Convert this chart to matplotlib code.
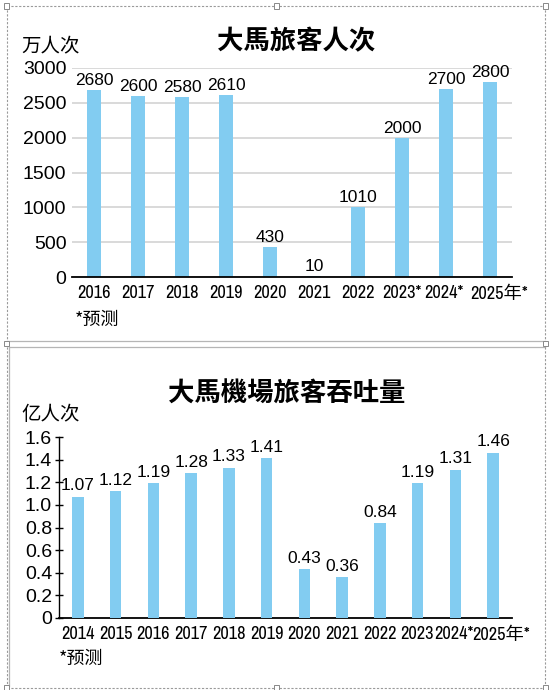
import matplotlib
matplotlib.use("Agg")
import matplotlib.pyplot as plt
from matplotlib import font_manager as fm
from matplotlib.lines import Line2D
from matplotlib.patches import Rectangle
from matplotlib.transforms import ScaledTranslation

# ---------------- data ----------------
years_top = ['2016', '2017', '2018', '2019', '2020', '2021', '2022', '2023*', '2024*', '2025年*']
visitors = [2680, 2600, 2580, 2610, 430, 10, 1010, 2000, 2700, 2800]
yticks_top = [0, 500, 1000, 1500, 2000, 2500, 3000]

years_bot = ['2014', '2015', '2016', '2017', '2018', '2019', '2020', '2021', '2022', '2023', '2024*', '2025年*']
airport = [1.07, 1.12, 1.19, 1.28, 1.33, 1.41, 0.43, 0.36, 0.84, 1.19, 1.31, 1.46]
yticks_bot = [0, 0.2, 0.4, 0.6, 0.8, 1.0, 1.2, 1.4, 1.6]

title_top = '大馬旅客人次'
title_bot = '大馬機場旅客吞吐量'
unit_top = '万人次'
unit_bot = '亿人次'
note = '*预测'

# ---------------- fonts ----------------
sans = 'Liberation Sans'
cjk = 'Noto Sans CJK SC'


def find_condensed():
    cands = []
    for e in fm.fontManager.ttflist:
        fn = e.fname.replace('\\', '/').split('/')[-1].lower()
        if not (fn.endswith('.ttf') or fn.endswith('.otf')):
            continue
        if 'italic' in fn or 'oblique' in fn:
            continue
        if 'bold' in fn or 'light' in fn or 'thin' in fn or 'black' in fn or 'medium' in fn:
            continue
        if 'mono' in fn or 'serif' in fn or 'cjk' in fn:
            continue
        score = None
        if 'narrow' in fn:
            score = 0
        elif 'extracondensed' in fn or 'ultracondensed' in fn:
            score = None
        elif 'semicondensed' in fn:
            score = 3
        elif 'condensed' in fn:
            score = 1
        if score is not None:
            cands.append((score, fn, e))
    cands.sort(key=lambda t: (t[0], t[1]))
    return cands[0][2] if cands else None


cond = find_condensed()
if cond is not None:
    narrow_kw = dict(family=[cond.name, cjk], stretch=cond.stretch, weight='normal')
    nsize = 13.2
else:
    narrow_kw = dict(family=[sans, cjk])
    nsize = 11.5

plt.rcParams['font.family'] = [sans, cjk, 'DejaVu Sans']

BAR = '#82CCF1'
W, H = 552, 690
fig = plt.figure(figsize=(W / 100, H / 100), dpi=100)


def fx(x):
    return x / W


def fy(y):
    return 1 - y / H


def shift(label, dx_px):
    label.set_transform(label.get_transform() + ScaledTranslation(dx_px / 100, 0, fig.dpi_scale_trans))


# ---------------- decorations (frames) ----------------
def hline(x0, x1, y, **kw):
    fig.add_artist(Line2D([fx(x0), fx(x1)], [fy(y), fy(y)], transform=fig.transFigure, **kw))


def vline(x, y0, y1, **kw):
    fig.add_artist(Line2D([fx(x), fx(x)], [fy(y0), fy(y1)], transform=fig.transFigure, **kw))


dash = dict(color='#9a9a9a', lw=0.8, ls=(0, (2, 1.5)))
solid = dict(color='#b5b5b5', lw=0.9)
hline(6.5, 545, 6, **dash)
vline(6.5, 6, 343, **dash)
vline(545, 6, 343, **dash)
hline(6.5, 545, 341, **solid)
hline(9, 545, 347, **solid)
vline(9, 347, 686, **solid)
vline(6.5, 343, 688, **dash)
vline(545, 343, 688, **dash)
hline(6.5, 545, 688, **dash)

for (hx, hy) in [(6, 6), (276, 6), (545, 6), (6, 343), (545, 343), (6, 687), (276, 687), (545, 687)]:
    s = 5
    fig.add_artist(Rectangle((fx(hx - s / 2), fy(hy + s / 2)), s / W, s / H, transform=fig.transFigure,
                             facecolor='white', edgecolor='#888888', lw=0.7, zorder=10))

# ---------------- top chart ----------------
ax1 = fig.add_axes([fx(72), fy(277), (512 - 72) / W, (277 - 68) / H])
x1 = list(range(len(visitors)))
ax1.bar(x1, visitors, width=0.32, color=BAR, zorder=3)
ax1.set_xlim(-0.5, len(visitors) - 0.5)
ax1.set_ylim(0, 3000)
ax1.set_yticks(yticks_top)
ax1.set_yticklabels([str(v) for v in yticks_top], fontsize=14, family=sans)
ax1.set_xticks(x1)
ax1.set_xticklabels(years_top, fontsize=nsize, **narrow_kw)
ax1.tick_params(axis='both', length=0)
ax1.tick_params(axis='y', pad=4)
ax1.tick_params(axis='x', pad=6)
for s in ['left', 'right', 'top']:
    ax1.spines[s].set_visible(False)
ax1.spines['bottom'].set_linewidth(1.3)
ax1.spines['bottom'].set_zorder(4)
ax1.grid(axis='y', color='#cfcfcf', lw=1.1, zorder=0)
for xi, v in zip(x1, visitors):
    ax1.annotate(str(v), (xi, v), xytext=(0, 1.5), textcoords='offset points',
                 ha='center', va='bottom', fontsize=12.5, family=sans)
xl1 = ax1.get_xticklabels()
shift(xl1[-2], -2)
shift(xl1[-1], 9)

fig.text(fx(296), fy(42), title_top, ha='center', va='center', fontsize=19, fontweight='bold', family=[cjk])
fig.text(fx(21), fy(46), unit_top, ha='left', va='center', fontsize=14, family=[cjk])
fig.text(fx(75), fy(320), note, ha='left', va='center', fontsize=13, family=[cjk, 'DejaVu Sans'])

# ---------------- bottom chart ----------------
ax2 = fig.add_axes([fx(59), fy(618), (512 - 59) / W, (618 - 437) / H])
x2 = list(range(len(airport)))
ax2.bar(x2, airport, width=0.31, color=BAR, zorder=3)
ax2.set_xlim(-0.5, len(airport) - 0.5)
ax2.set_ylim(0, 1.6)
ax2.set_yticks(yticks_bot)
ax2.set_yticklabels(['0' if v == 0 else f'{v:.1f}' for v in yticks_bot], fontsize=14, family=sans)
ax2.set_xticks(x2)
ax2.set_xticklabels(years_bot, fontsize=nsize, **narrow_kw)
ax2.tick_params(axis='x', length=0, pad=6)
ax2.tick_params(axis='y', direction='inout', length=6, width=1, pad=2)
for s in ['right', 'top']:
    ax2.spines[s].set_visible(False)
ax2.spines['bottom'].set_linewidth(1.3)
ax2.spines['left'].set_linewidth(1.0)
for xi, v in zip(x2, airport):
    ax2.annotate(f'{v:.2f}', (xi, v), xytext=(0, 2.5), textcoords='offset points',
                 ha='center', va='bottom', fontsize=12.5, family=sans)
xl2 = ax2.get_xticklabels()
shift(xl2[-3], -1)
shift(xl2[-2], -1)
shift(xl2[-1], 8)

fig.text(fx(287), fy(394), title_bot, ha='center', va='center', fontsize=19, fontweight='bold', family=[cjk])
fig.text(fx(21), fy(415), unit_bot, ha='left', va='center', fontsize=14, family=[cjk])
fig.text(fx(59), fy(659), note, ha='left', va='center', fontsize=13, family=[cjk, 'DejaVu Sans'])

fig.savefig('out.png', dpi=100)
